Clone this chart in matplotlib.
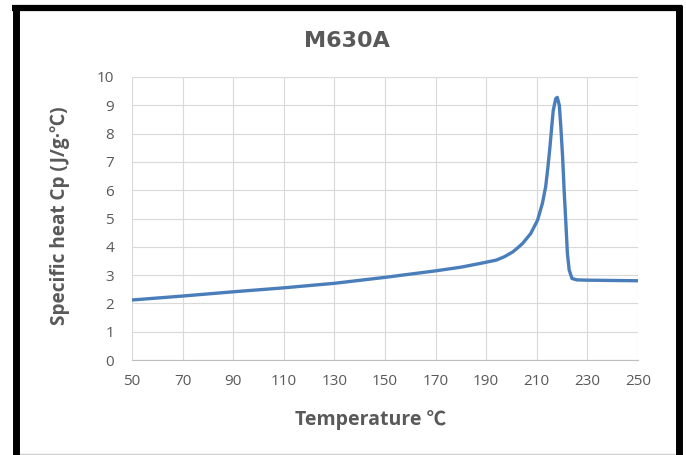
import matplotlib
matplotlib.use("Agg")
import matplotlib.pyplot as plt
from matplotlib.lines import Line2D

# temperature (C) and specific heat Cp (J/g.C)
temperature = [50, 70, 90, 110, 130, 150, 170, 180, 187.5, 194, 197.2, 200.5, 202.4,
               204.4, 207.6, 210.3, 212.2, 213.5, 214.4, 215.2, 215.9, 216.5, 217.5,
               218.1, 218.9, 219.5, 220.2, 220.8, 221.5, 222.1, 222.8, 223.9, 225.9,
               230.5, 240, 250]
cp = [2.12, 2.26, 2.41, 2.55, 2.71, 2.92, 3.15, 3.28, 3.41, 3.53, 3.65, 3.82, 3.96,
      4.12, 4.47, 4.94, 5.53, 6.12, 6.82, 7.53, 8.24, 8.82, 9.24,
      9.28, 9.00, 8.24, 7.18, 6.00, 4.82, 3.76, 3.18, 2.88, 2.83,
      2.82, 2.81, 2.80]

x_ticks = list(range(50, 251, 20))
y_ticks = list(range(0, 11))

W, H = 686, 455
gray_text = "#595959"
fonts = ["Open Sans", "Noto Sans CJK SC", "DejaVu Sans"]
plt.rcParams["font.family"] = fonts

fig = plt.figure(figsize=(W / 100, H / 100), dpi=100)
ax = fig.add_axes([132 / W, 1 - 360 / H, 506 / W, 283 / H])

ax.plot(temperature, cp, color="#4a7ebb", linewidth=2.4,
        solid_capstyle="round", solid_joinstyle="round")

ax.set_xlim(50, 250)
ax.set_ylim(0, 10)
ax.set_xticks(x_ticks)
ax.set_yticks(y_ticks)
ax.grid(True, color="#d9d9d9", linewidth=0.8)
ax.set_axisbelow(True)
for side in ["top", "right", "left"]:
    ax.spines[side].set_visible(False)
ax.spines["bottom"].set_color("#bfbfbf")
ax.tick_params(length=0, colors=gray_text, labelsize=11)
ax.tick_params(axis="x", pad=10)
ax.tick_params(axis="y", pad=13)

fig.text(347 / W, 1 - 41 / H, "M630A", ha="center", va="center",
         fontsize=16, fontweight="bold", color=gray_text,
         family=["DejaVu Sans"])
fig.text(371 / W, 1 - 420 / H, "Temperature ℃", ha="center", va="center",
         fontsize=14, fontweight="bold", color=gray_text)
fig.text(60 / W, 1 - 216 / H, "Specific heat Cp (J/g·℃)", ha="center", va="center",
         rotation=90, fontsize=13.7, fontweight="bold", color=gray_text)

# black frame around the chart (open at the bottom)
def px_line(x0, y0, x1, y1, lw, color):
    fig.add_artist(Line2D([x0 / W, x1 / W], [1 - y0 / H, 1 - y1 / H],
                          transform=fig.transFigure, color=color, linewidth=lw,
                          solid_capstyle="butt"))

px_line(19, 453.5, 675, 453.5, 1.0, "#d0d0d0")
px_line(15.5, 5, 15.5, H, 5.0, "black")
px_line(678.5, 5, 678.5, H, 5.0, "black")
px_line(12, 8, 682, 8, 4.5, "black")

fig.savefig("out.png", dpi=100)
